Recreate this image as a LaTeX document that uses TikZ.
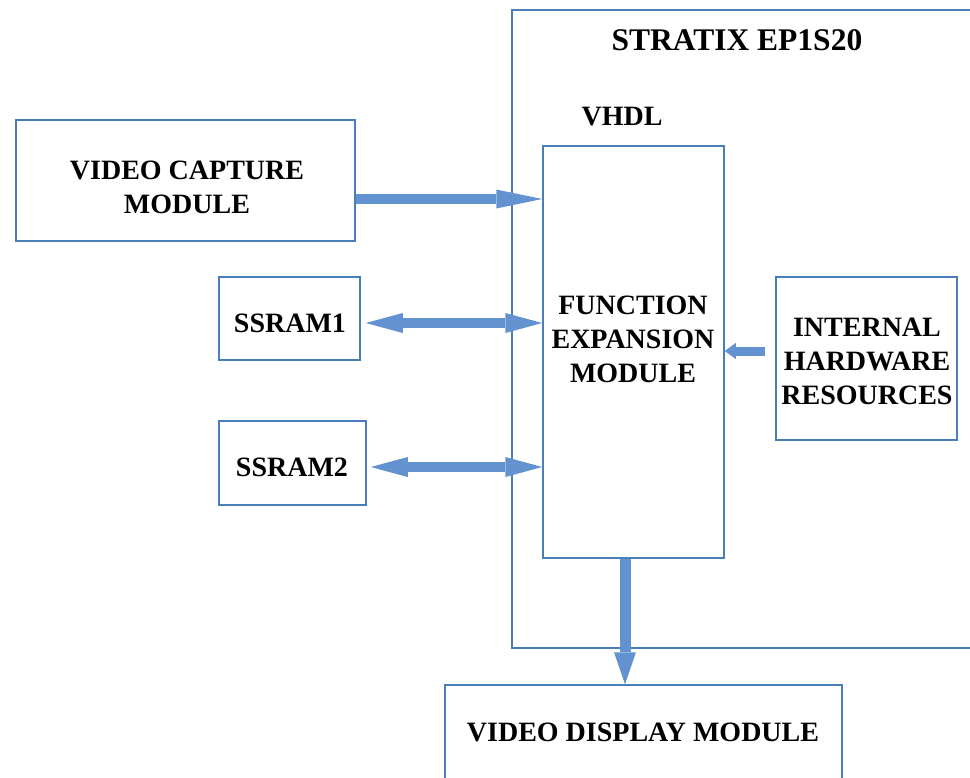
\documentclass[tikz,border=0pt]{standalone}
\usepackage{fontspec}
\setmainfont{Liberation Serif}
\usetikzlibrary{arrows.meta}
\definecolor{boxblue}{RGB}{74,126,187}
\definecolor{arrblue}{RGB}{99,146,208}
\begin{document}
\begin{tikzpicture}[x=1pt,y=-1pt,
 blk/.style={draw=boxblue,line width=1.5pt,rectangle,inner sep=0pt,align=center,font=\fontsize{28}{34}\selectfont\bfseries},
 lbl/.style={font=\fontsize{28}{34}\selectfont\bfseries,align=center,inner sep=0pt},
 fat/.style={draw=arrblue,line width=10pt},
]
\clip (0,0) rectangle (970,778);
\useasboundingbox (0,0) rectangle (970,778);
% outer FPGA box
\draw[boxblue,line width=1.5pt] (512,10) rectangle (990,648);
\node[lbl,font=\fontsize{31.5}{36}\selectfont\bfseries] (stx) at (737,40) {STRATIX EP1S20};
\node[lbl] (vhdl) at (622,117) {VHDL};
% blocks
\node[blk,minimum width=339pt,minimum height=121pt] (cap) at (185.5,180.5) {};
\node[lbl] (captxt) at (187,187) {VIDEO CAPTURE\\MODULE};
\node[blk,minimum width=141pt,minimum height=83pt] (s1) at (289.5,318.5) {};
\node[lbl] (s1txt) at (290,323) {SSRAM1};
\node[blk,minimum width=147pt,minimum height=84pt] (s2) at (292.5,463) {};
\node[lbl] (s2txt) at (292,467) {SSRAM2};
\node[blk,minimum width=181pt,minimum height=412pt] (fem) at (633.5,352) {};
\node[lbl] (femtxt) at (633,339) {FUNCTION\\EXPANSION\\MODULE};
\node[blk,minimum width=181pt,minimum height=163pt] (ihr) at (866.5,358.5) {};
\node[lbl] (ihrtxt) at (867,361) {INTERNAL\\HARDWARE\\RESOURCES};
\node[blk,minimum width=397pt,minimum height=120pt] (vdm) at (643.5,745) {};
\node[lbl] (vdmtxt) at (643,732) {VIDEO DISPLAY MODULE};
% connectors
\coordinate (ca) at ([yshift=-18.5pt]cap.east);
\draw[fat,-{Triangle[length=46pt,width=19pt,line width=0pt]}] (ca) -- (ca -| fem.west);
\coordinate (s1a) at ([xshift=5pt,yshift=-4.5pt]s1.east);
\draw[fat,{Triangle[length=37pt,width=20pt,line width=0pt]}-{Triangle[length=37pt,width=20pt,line width=0pt]}] (s1a) -- (s1a -| fem.west);
\coordinate (s2a) at ([xshift=4pt,yshift=-4pt]s2.east);
\draw[fat,{Triangle[length=37pt,width=20pt,line width=0pt]}-{Triangle[length=37pt,width=20pt,line width=0pt]}] (s2a) -- (s2a -| fem.west);
\coordinate (ia) at ([xshift=-10pt,yshift=7.5pt]ihr.west);
\draw[fat,line width=9pt,-{Triangle[length=11pt,width=16pt,line width=0pt]}] (ia) -- (ia -| fem.east);
\coordinate (da) at ([xshift=-8.5pt]fem.south);
\draw[fat,line width=11pt,-{Triangle[length=32pt,width=22pt,line width=0pt]}] (da) -- (da |- vdm.north);
\end{tikzpicture}
\end{document}
